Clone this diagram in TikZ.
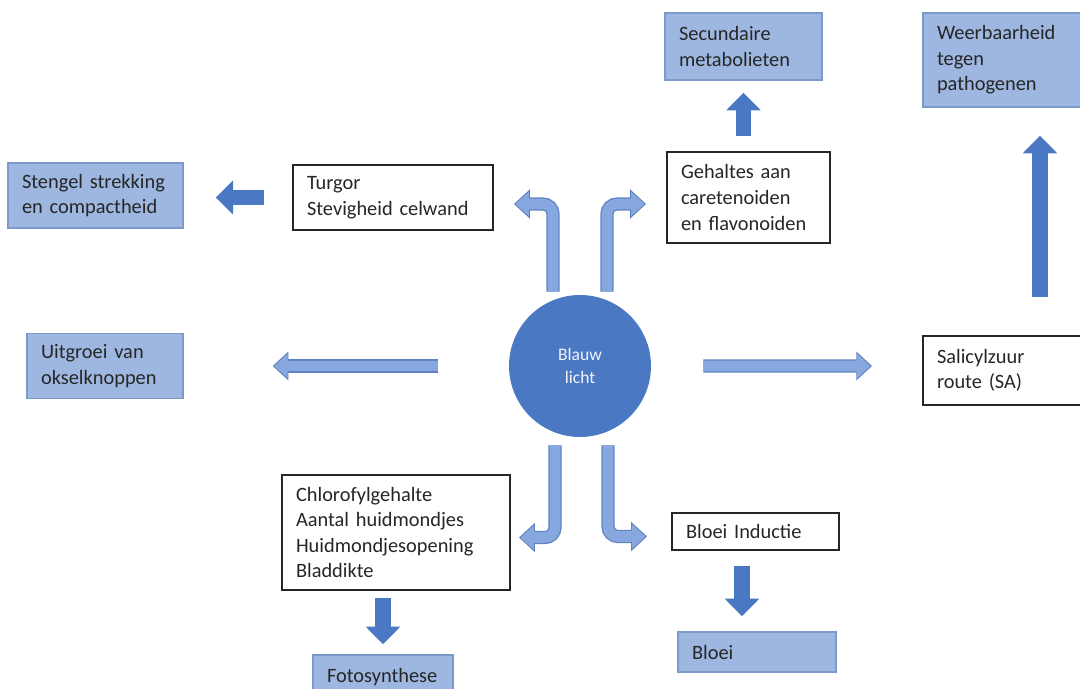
\documentclass[tikz,border=0pt]{standalone}
\usepackage{fontspec}
\setmainfont{Carlito}
\usetikzlibrary{arrows.meta}

\definecolor{blockblue}{HTML}{4A78C2}
\definecolor{boxfill}{HTML}{9DB7E0}
\definecolor{boxline}{HTML}{7C99CB}
\definecolor{hollowfill}{HTML}{87A8DE}
\definecolor{hollowline}{HTML}{5F82C2}
\definecolor{inktext}{HTML}{262626}

\begin{document}
\begin{tikzpicture}[x=0.02cm, y=-0.02cm,
    txt/.style={font=\fontsize{11.6}{14.6}\selectfont, text=inktext, align=left, inner xsep=0.28cm, inner ysep=0pt},
    boxsize/.style 2 args={text width=#1cm, minimum height=#2cm},
    lightbox/.style={txt, rectangle, fill=boxfill, draw=boxline, line width=0.8pt},
    plainbox/.style={txt, rectangle, fill=white, draw=black!85, line width=1.1pt},
    darkarrow/.style={draw=blockblue, line width=9pt, -{Triangle[length=10pt, width=19pt]}},
    hollowarrow/.style={draw=hollowline, line width=7.5pt, -{Triangle[length=9pt, width=16pt]},
        postaction={draw=hollowfill, line width=6pt, -{Triangle[length=7.6pt, width=13.4pt]}, shorten >=0.9pt}}]
    \path[use as bounding box, clip] (0,0) rectangle (1080,689);

    % Centre
    \node[circle, fill=blockblue, minimum size=2.84cm, inner sep=0pt, align=center,
          text=white!92!blockblue, font=\fontsize{10}{13}\selectfont] (licht) at (580,366) {Blauw\\licht};

    % Direct effects (white boxes)
    \node[plainbox, boxsize={3.44}{1.3}] (turgor) at (393,197.5) {Turgor\\Stevigheid celwand};
    \node[plainbox, boxsize={2.70}{1.82}] (gehaltes) at (748.5,197.5) {Gehaltes aan\\caretenoiden\\en flavonoiden};
    \node[plainbox, boxsize={2.62}{1.38}] (salicyl) at (1002.5,370.5) {Salicylzuur\\route (SA)};
    \node[plainbox, boxsize={4.00}{2.3}] (chloro) at (396,532.5) {Chlorofylgehalte\\Aantal huidmondjes\\Huidmondjesopening\\Bladdikte};
    \node[plainbox, boxsize={2.78}{0.74}] (inductie) at (755.5,531.5) {Bloei Inductie};

    % Outcomes (light boxes)
    \node[lightbox, boxsize={2.94}{1.3}] (stengel) at (95.5,195.5) {Stengel strekking\\en compactheid};
    \node[lightbox, boxsize={2.56}{1.3}] (uitgroei) at (105,366) {Uitgroei van\\okselknoppen};
    \node[lightbox, boxsize={2.58}{1.34}] (secund) at (743.5,46.5) {Secundaire\\metabolieten};
    \node[lightbox, boxsize={2.62}{1.88}] (weerb) at (1002.5,60) {Weerbaarheid\\tegen\\pathogenen};
    \node[lightbox, boxsize={2.24}{0.9}] (fotos) at (383,677.5) {Fotosynthese};
    \node[lightbox, boxsize={2.60}{0.8}] (bloei) at (757,652) {Bloei};
    \coordinate (bloeitop) at ([xshift=-0.3cm]bloei.north);
    \coordinate (weerbbot) at ([xshift=0.75cm]weerb.south);

    % Block arrows
    \draw[darkarrow, shorten <=0.56cm, shorten >=0.64cm] (turgor.west) -- (turgor.west -| stengel.east);
    \draw[darkarrow, shorten <=0.3cm, shorten >=0.24cm] (secund.south |- gehaltes.north) -- (secund.south);
    \draw[darkarrow, shorten <=0.76cm, shorten >=0.56cm] (weerbbot |- salicyl.north) -- (weerbbot);
    \draw[darkarrow, shorten <=0.14cm, shorten >=0.2cm] (fotos.north |- chloro.south) -- (fotos.north);
    \draw[darkarrow, shorten <=0.3cm, shorten >=0.3cm] (bloeitop |- inductie.south) -- (bloeitop);

    % Outline arrows from the centre
    \draw[hollowarrow] ([xshift=-1.42cm]licht.west) -- ([xshift=1.78cm]uitgroei.east);
    \draw[hollowarrow] ([xshift=1.04cm]licht.east) -- ([xshift=-1cm, yshift=0.09cm]salicyl.west);
    \draw[hollowarrow, rounded corners=0.2cm] ([xshift=-0.54cm, yshift=0.06cm]licht.north) |- ([xshift=0.4cm, yshift=-0.13cm]turgor.east);
    \draw[hollowarrow, rounded corners=0.2cm] ([xshift=0.54cm, yshift=0.06cm]licht.north) |- ([xshift=-0.4cm, yshift=-0.13cm]gehaltes.west);
    \draw[hollowarrow, rounded corners=0.2cm] ([xshift=-0.5cm, yshift=-0.16cm]licht.south) |- ([xshift=0.16cm, yshift=-0.1cm]chloro.east);
    \draw[hollowarrow, rounded corners=0.2cm] ([xshift=0.56cm, yshift=-0.16cm]licht.south) |- ([xshift=-0.48cm, yshift=-0.1cm]inductie.west);
\end{tikzpicture}
\end{document}
